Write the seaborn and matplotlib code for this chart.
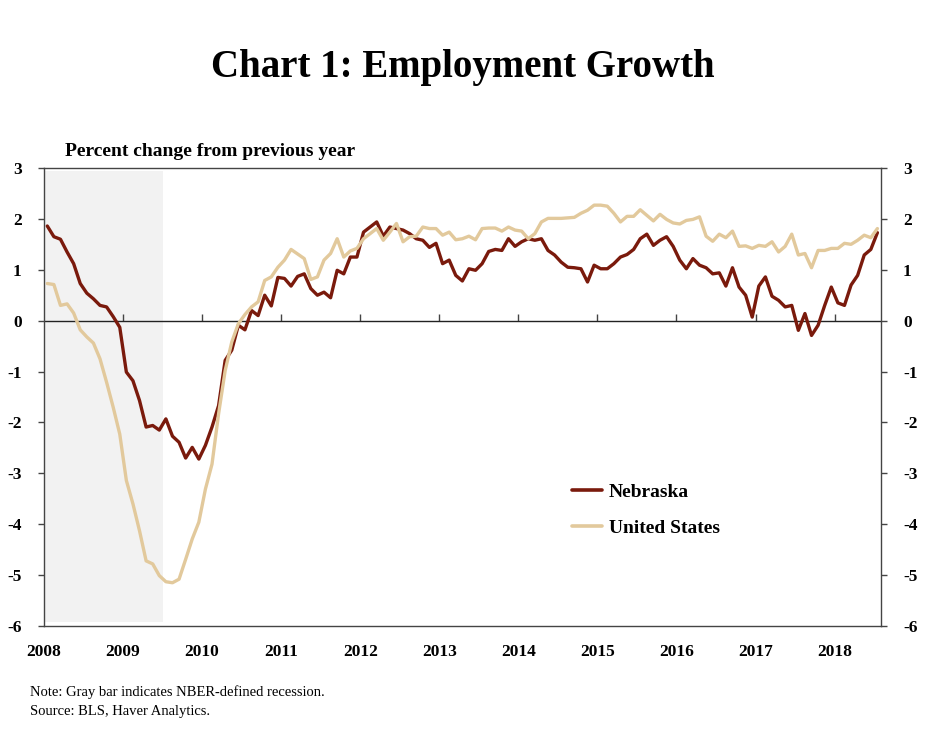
import numpy as np
import pandas as pd
import matplotlib
matplotlib.use("Agg")
import matplotlib.pyplot as plt
import seaborn as sns

# ---------------- data (monthly, Jan 2008 - Jul 2018, % change y/y) ----------------
start_year = 2008
nebraska = [
    1.86, 1.65, 1.60, 1.35, 1.12, 0.73, 0.54, 0.43, 0.30, 0.27, 0.08, -0.13, -1.01, -1.18, -1.57, -2.09, -2.06, -2.15, -1.93, -2.27,
    -2.39, -2.70, -2.49, -2.72, -2.45, -2.09, -1.67, -0.78, -0.58, -0.09, -0.18, 0.20, 0.10, 0.50, 0.29, 0.85, 0.83, 0.68, 0.87, 0.92,
    0.63, 0.50, 0.56, 0.45, 0.99, 0.92, 1.25, 1.25, 1.74, 1.84, 1.94, 1.66, 1.84, 1.81, 1.78, 1.71, 1.61, 1.58, 1.44, 1.52,
    1.12, 1.19, 0.89, 0.78, 1.02, 0.99, 1.12, 1.36, 1.40, 1.38, 1.61, 1.46, 1.55, 1.61, 1.58, 1.61, 1.38, 1.29, 1.15, 1.05,
    1.04, 1.02, 0.76, 1.09, 1.02, 1.02, 1.12, 1.25, 1.30, 1.40, 1.61, 1.70, 1.48, 1.58, 1.65, 1.46, 1.19, 1.02, 1.22, 1.09,
    1.04, 0.92, 0.94, 0.68, 1.04, 0.66, 0.50, 0.07, 0.68, 0.86, 0.48, 0.40, 0.27, 0.30, -0.19, 0.14, -0.29, -0.09, 0.30, 0.66,
    0.35, 0.30, 0.70, 0.89, 1.29, 1.40, 1.73,
]
united_states = [
    0.73, 0.71, 0.30, 0.33, 0.15, -0.18, -0.32, -0.44, -0.75, -1.21, -1.70, -2.23, -3.14, -3.60, -4.13, -4.72, -4.78, -5.01, -5.13, -5.15,
    -5.08, -4.69, -4.29, -3.96, -3.31, -2.82, -1.83, -0.98, -0.42, -0.06, 0.12, 0.27, 0.37, 0.79, 0.86, 1.05, 1.19, 1.40, 1.31, 1.22,
    0.81, 0.86, 1.19, 1.32, 1.61, 1.25, 1.37, 1.42, 1.61, 1.71, 1.81, 1.58, 1.74, 1.91, 1.55, 1.65, 1.66, 1.84, 1.81, 1.81,
    1.68, 1.74, 1.59, 1.61, 1.66, 1.59, 1.81, 1.82, 1.82, 1.76, 1.84, 1.78, 1.76, 1.61, 1.71, 1.94, 2.01, 2.01, 2.01, 2.02,
    2.03, 2.11, 2.17, 2.27, 2.27, 2.25, 2.11, 1.94, 2.05, 2.05, 2.18, 2.07, 1.96, 2.09, 1.99, 1.92, 1.90, 1.97, 1.99, 2.04,
    1.66, 1.56, 1.70, 1.63, 1.76, 1.46, 1.47, 1.42, 1.48, 1.46, 1.55, 1.35, 1.46, 1.70, 1.29, 1.32, 1.04, 1.38, 1.38, 1.42,
    1.42, 1.52, 1.50, 1.58, 1.68, 1.63, 1.81,
]
series_names = ["Nebraska", "United States"]
year_ticks = list(range(2008, 2019))
year_labels = [str(y) for y in year_ticks]
y_ticks = [-6, -5, -4, -3, -2, -1, 0, 1, 2, 3]
recession_start, recession_end = 2008.0, 2009.5

n = len(nebraska)
months = np.arange(n)
xpos = start_year + (months + 0.5) / 12.0
df = pd.DataFrame({
    "date": np.concatenate([xpos, xpos]),
    "value": nebraska + united_states,
    "series": [series_names[0]] * n + [series_names[1]] * n,
})

# ---------------- style ----------------
sns.set_style("white")
plt.rcParams["font.family"] = ["Liberation Serif", "DejaVu Serif"]
plt.rcParams["text.color"] = "black"
plt.rcParams["xtick.color"] = "black"
plt.rcParams["ytick.color"] = "black"

fig = plt.figure(figsize=(9.25, 7.29), dpi=100)
ax = fig.add_axes([44 / 925, 1 - 626 / 729, (880.7 - 44) / 925, (626 - 168) / 729])

ax.set_xlim(2008, 2018 + 7 / 12)
ax.set_ylim(-6, 3)

# recession bar
ax.axvspan(recession_start, recession_end, ymin=0.009, ymax=0.993,
           color="#F2F2F2", lw=0, zorder=0)
ax.axhline(0, color="#222222", lw=1.0, zorder=1)

palette = {"Nebraska": "#7A1A0C", "United States": "#E2C99C"}
sns.lineplot(data=df, x="date", y="value", hue="series", hue_order=series_names,
             palette=palette, linewidth=2.4, ax=ax, zorder=3, legend=True)

# axes frame
for s in ax.spines.values():
    s.set_color("#444444")
    s.set_linewidth(1.0)

ax.set_yticks(y_ticks)
ax.set_yticklabels([str(v) for v in y_ticks])
ax.tick_params(axis="y", which="both", left=True, right=True, labelleft=True,
               labelright=True, direction="out", length=4, width=1,
               color="#444444", labelcolor="black", labelsize=12.5, pad=12)
for lab in ax.get_yticklabels():
    lab.set_fontweight("bold")

ax.set_xticks(year_ticks)
ax.set_xticklabels(year_labels, fontsize=12.5, fontweight="bold")
ax.tick_params(axis="x", length=0, pad=13, labelcolor="black")

# small year ticks on the zero line
sec = ax.secondary_xaxis(6 / 9)
sec.set_xticks(year_ticks[1:])
sec.set_xticklabels([""] * len(year_ticks[1:]))
sec.tick_params(axis="x", direction="out", length=5, width=1, color="#444444")
sec.spines["bottom"].set_visible(False)
sec.spines["top"].set_visible(False)

ax.set_xlabel("")
ax.set_ylabel("")

# legend
leg = ax.legend(loc="upper left", bbox_to_anchor=(0.61, 0.35), frameon=False,
                handlelength=1.55, handletextpad=0.35, labelspacing=0.95,
                prop={"weight": "bold", "size": 14})
for line in leg.get_lines():
    line.set_linewidth(2.6)
for t in leg.get_texts():
    t.set_color("black")

# titles and notes
fig.text(0.5, 1 - 67 / 729, "Chart 1: Employment Growth", ha="center", va="center",
         fontsize=28, fontweight="bold", color="black")
fig.text(65 / 925, 1 - 152 / 729, "Percent change from previous year", ha="left",
         va="center", fontsize=14, fontweight="bold", color="black")
fig.text(30 / 925, 1 - 692 / 729, "Note: Gray bar indicates NBER-defined recession.",
         ha="left", va="center", fontsize=10.5, color="black")
fig.text(30 / 925, 1 - 711 / 729, "Source: BLS, Haver Analytics.",
         ha="left", va="center", fontsize=10.5, color="black")

fig.savefig("out.png", dpi=100, facecolor="white")
